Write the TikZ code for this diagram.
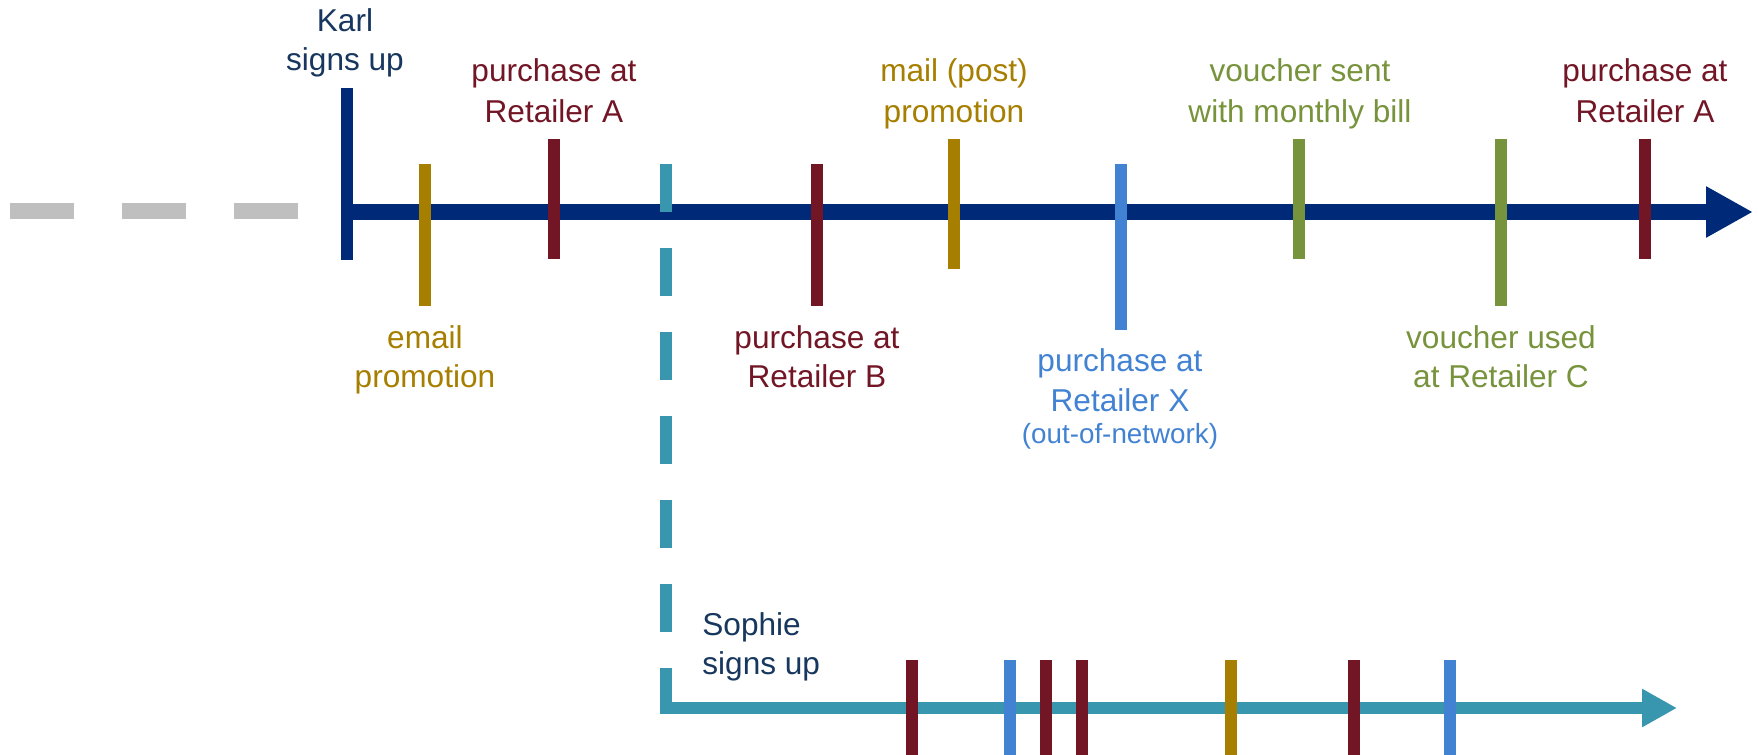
\documentclass[tikz,border=0pt]{standalone}
\usepackage{fontspec}
\setmainfont{Liberation Sans}
\usetikzlibrary{arrows.meta}
\definecolor{mainnavy}{RGB}{0,41,120}
\definecolor{txtnavy}{RGB}{23,55,94}
\definecolor{dred}{RGB}{114,22,38}
\definecolor{gold}{RGB}{166,126,0}
\definecolor{tealline}{RGB}{56,150,174}
\definecolor{sky}{RGB}{66,130,210}
\definecolor{olivegreen}{RGB}{119,147,60}
\definecolor{pastgray}{RGB}{191,191,191}
\begin{document}
\begin{tikzpicture}[x=0.5pt,y=-0.5pt,
  lbl/.style={inner sep=0pt, anchor=base, font=\fontsize{15.8}{19}\selectfont},
  smalllbl/.style={inner sep=0pt, anchor=base, font=\fontsize{13.9}{16}\selectfont},
  tick/.style={line width=6pt},
]
\useasboundingbox (0,0) rectangle (1758,755);
% past (gray dashed)
\coordinate (g0) at (10,211);
\coordinate (g1) at (298,211);
\draw[pastgray, line width=8pt, dash pattern=on 32pt off 24pt] (g0) -- (g1);
% Karl timeline
\coordinate (kt) at (347,88);
\coordinate (kb) at (347,260);
\draw[mainnavy, line width=6pt] (kt) -- (kb);
\coordinate (k0) at (341,212);
\coordinate (kend) at (1753,212);
\draw[mainnavy, line width=8pt, -{Triangle[length=23.5pt,width=24pt]}] (k0) -- (kend);
% Karl ticks
\draw[tick, gold] (425,164) -- (425,306);
\draw[tick, dred] (554,139) -- (554,259);
\draw[tick, dred] (817,164) -- (817,306);
\draw[tick, gold] (954,139) -- (954,269);
\draw[tick, sky] (1121,164) -- (1121,330);
\draw[tick, olivegreen] (1299,139) -- (1299,259);
\draw[tick, olivegreen] (1501,139) -- (1501,306);
\draw[tick, dred] (1645,139) -- (1645,259);
% Sophie timeline
\coordinate (s0) at (666,164);
\coordinate (s1) at (666,668);
\coordinate (sc) at (666,708);
\coordinate (send) at (1677,708);
\draw[tealline, line width=6pt, dash pattern=on 24pt off 18pt] (s0) -- (s1);
\draw[tealline, line width=6pt, -{Triangle[length=17.5pt,width=18pt]}] (s1) -- (sc) -- (send);
% Sophie ticks
\draw[tick, dred] (912,660) -- (912,755);
\draw[tick, sky] (1010,660) -- (1010,755);
\draw[tick, dred] (1046,660) -- (1046,755);
\draw[tick, dred] (1082,660) -- (1082,755);
\draw[tick, gold] (1231,660) -- (1231,755);
\draw[tick, dred] (1354,660) -- (1354,755);
\draw[tick, sky] (1450,660) -- (1450,755);
% labels above
\node[lbl, txtnavy] (karl1) at (345,32) {Karl};
\node[lbl, txtnavy] (karl2) at (345,70) {signs up};
\node[lbl, dred] (pa1) at (554,82) {purchase at};
\node[lbl, dred] (pa2) at (554,122) {Retailer A};
\node[lbl, gold] (mp1) at (954,82) {mail (post)};
\node[lbl, gold] (mp2) at (954,122) {promotion};
\node[lbl, olivegreen] (vs1) at (1300,82) {voucher sent};
\node[lbl, olivegreen] (vs2) at (1300,122) {with monthly bill};
\node[lbl, dred] (pa3) at (1645,82) {purchase at};
\node[lbl, dred] (pa4) at (1645,122) {Retailer A};
% labels below
\node[lbl, gold] (ep1) at (425,348) {email};
\node[lbl, gold] (ep2) at (425,387) {promotion};
\node[lbl, dred] (pb1) at (817,348) {purchase at};
\node[lbl, dred] (pb2) at (817,387) {Retailer B};
\node[lbl, sky] (px1) at (1120,371) {purchase at};
\node[lbl, sky] (px2) at (1120,411) {Retailer X};
\node[smalllbl, sky] (px3) at (1120,443) {(out-of-network)};
\node[lbl, olivegreen] (vu1) at (1501,348) {voucher used};
\node[lbl, olivegreen] (vu2) at (1501,387) {at Retailer C};
% Sophie label
\node[lbl, anchor=base west, txtnavy] (so1) at (702,635) {Sophie};
\node[lbl, anchor=base west, txtnavy] (so2) at (702,674) {signs up};
\end{tikzpicture}
\end{document}
